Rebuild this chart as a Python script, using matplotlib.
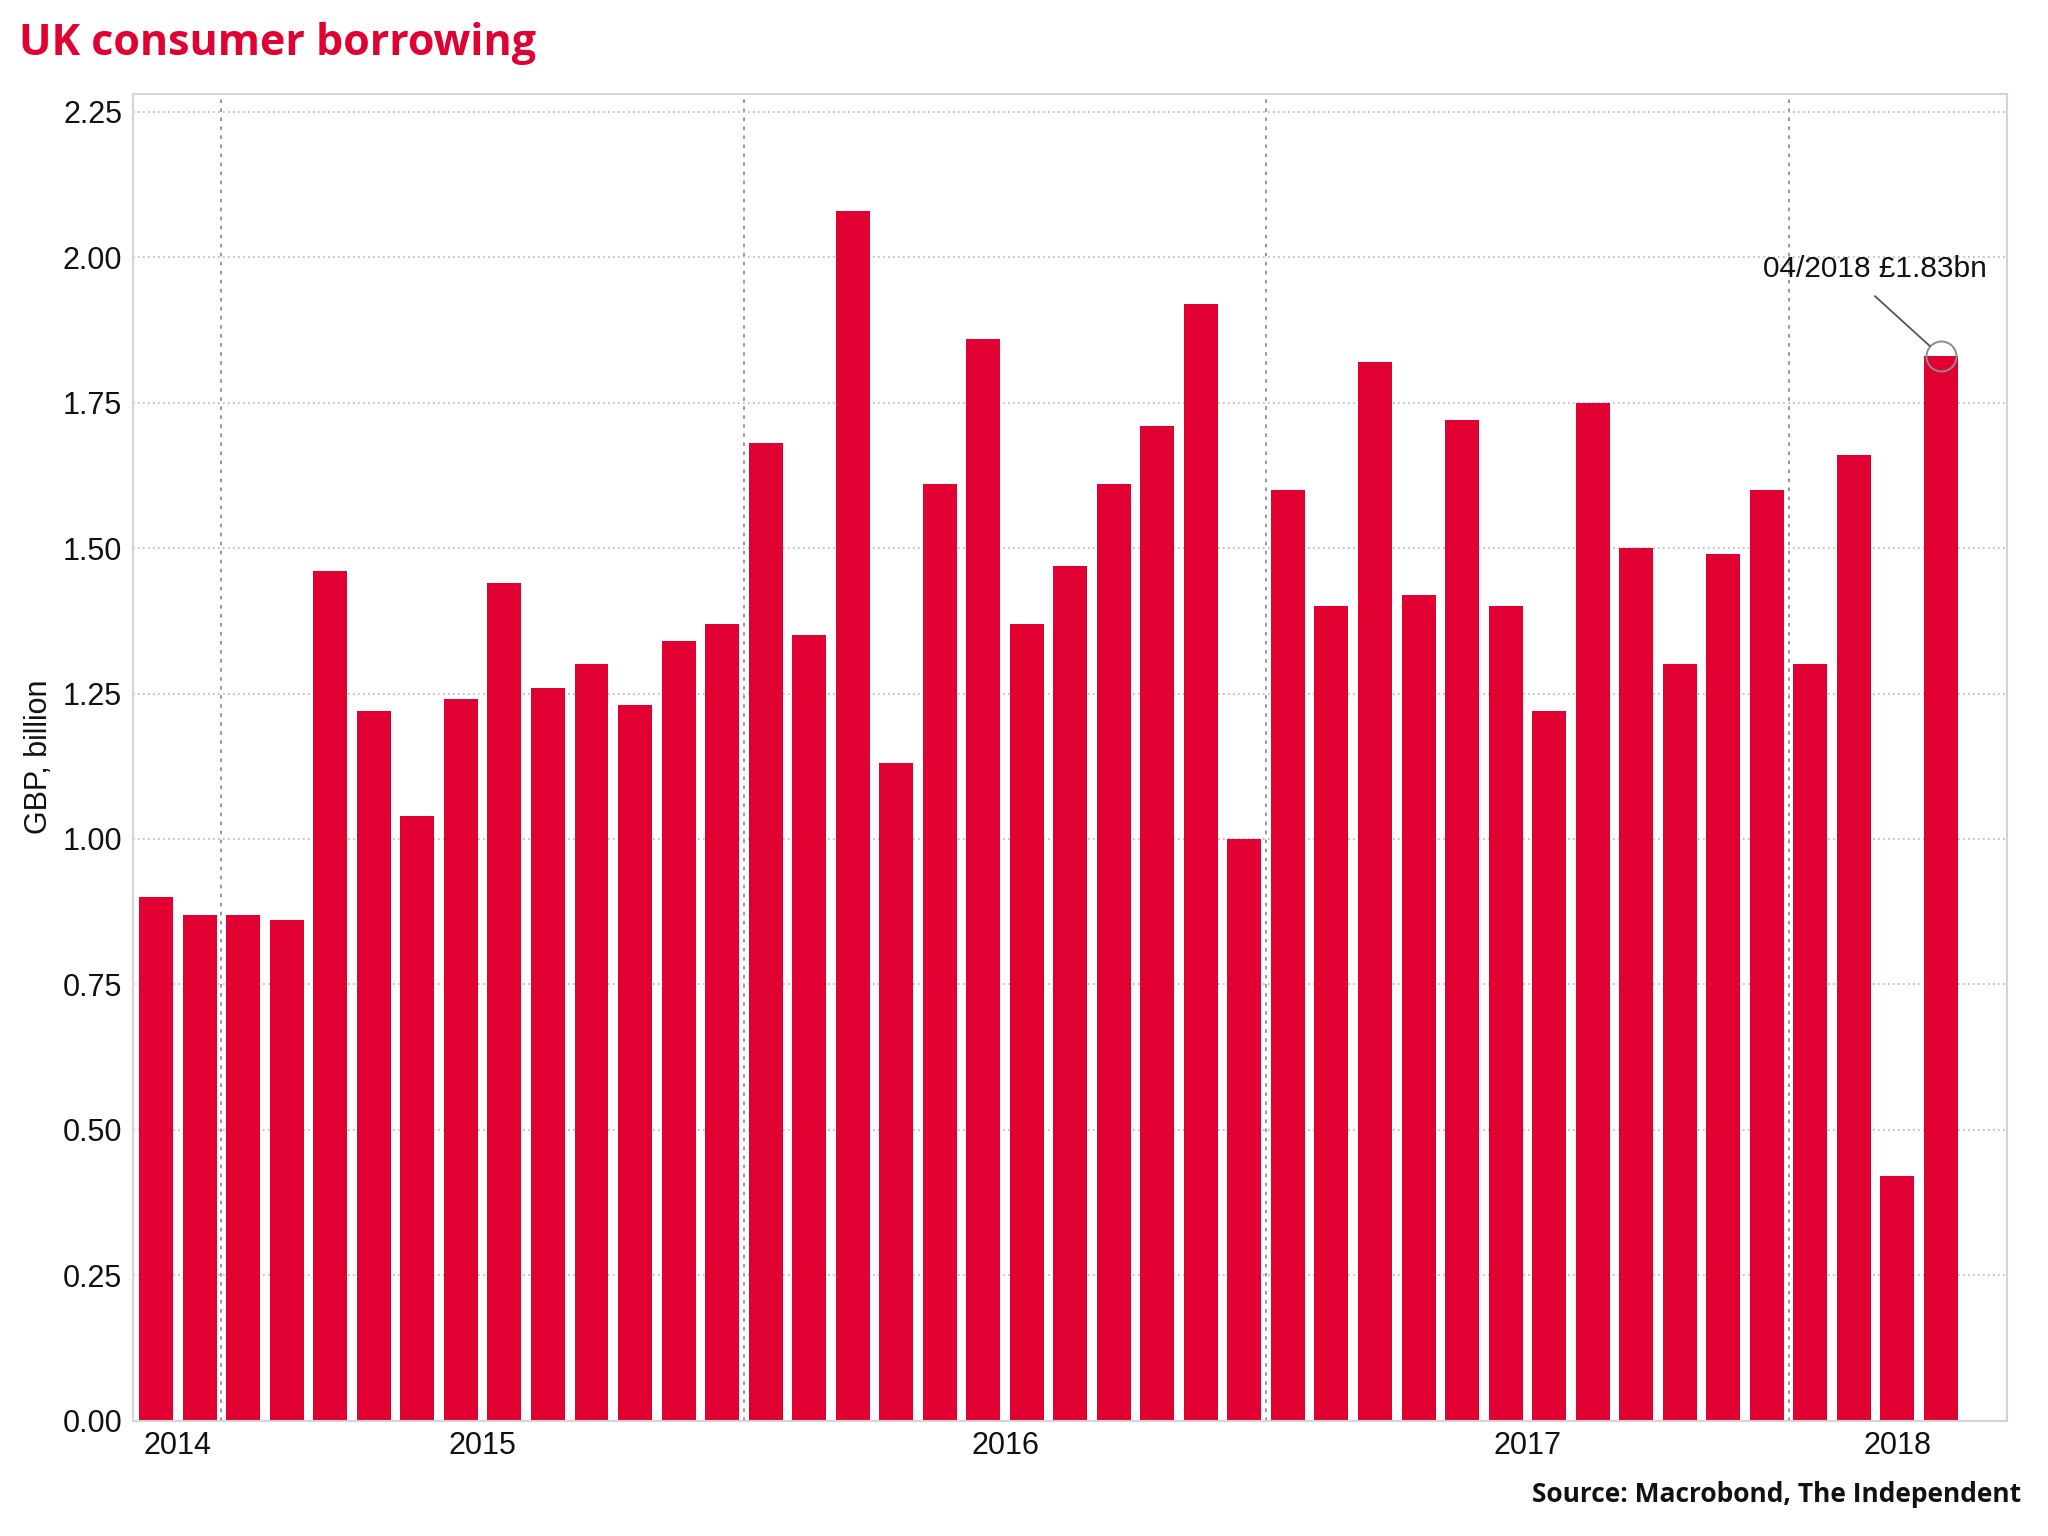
import numpy as np
import pandas as pd
import matplotlib
matplotlib.use('Agg')
import matplotlib.pyplot as plt

# monthly net consumer credit, GBP bn, Nov 2014 - Apr 2018
months = pd.date_range('2014-11-01', '2018-04-01', freq='MS')
borrowing = [0.90, 0.87, 0.87, 0.86, 1.46, 1.22, 1.04, 1.24, 1.44, 1.26,
             1.30, 1.23, 1.34, 1.37, 1.68, 1.35, 2.08, 1.13, 1.61, 1.86,
             1.37, 1.47, 1.61, 1.71, 1.92, 1.00, 1.60, 1.40, 1.82, 1.42,
             1.72, 1.40, 1.22, 1.75, 1.50, 1.30, 1.49, 1.60, 1.30, 1.66,
             0.42, 1.83]
y_ticks = [0.00, 0.25, 0.50, 0.75, 1.00, 1.25, 1.50, 1.75, 2.00, 2.25]
note_text = '04/2018 £1.83bn'

czerwony = '#E00032'
plt.rcParams['font.family'] = ['Liberation Sans', 'DejaVu Sans']

fig = plt.figure(figsize=(20.48, 15.36), dpi=100)
ax = fig.add_axes([0.065, 0.075, 0.915, 0.864])

x = np.arange(len(borrowing))
ax.bar(x, borrowing, width=0.78, color=czerwony, zorder=2)

x_lo, x_hi = -0.53, len(borrowing) + 0.52
ax.set_xlim(x_lo, x_hi)
ax.set_ylim(0, 2.281)

# granice lat i etykiety w srodku widocznej czesci roku
granice = [i - 0.5 for i, m in enumerate(months) if m.month == 1]
krawedzie = [x_lo] + granice + [x_hi]
srodki = [(a + b) / 2 for a, b in zip(krawedzie[:-1], krawedzie[1:])]
lata = sorted(set(m.year for m in months))

ax.set_xticks(srodki)
ax.set_xticklabels([str(r) for r in lata])
ax.set_xticks(granice, minor=True)
ax.set_yticks(y_ticks)
ax.set_yticklabels([f'{v:.2f}' for v in y_ticks])
ax.tick_params(axis='both', which='both', length=0, labelsize=22, colors='#111111')
ax.tick_params(axis='y', pad=8)
ax.tick_params(axis='x', pad=7)

ax.grid(axis='y', which='major', linestyle=(0, (1, 2)), color='#b8b8b8', linewidth=1.2, zorder=0)
ax.grid(axis='x', which='minor', linestyle=(0, (2, 3)), color='#909090', linewidth=1.3, zorder=0)
ax.grid(axis='x', which='major', visible=False)

for s in ax.spines.values():
    s.set_color('#d4d4d4')
    s.set_linewidth(1.5)

ax.set_ylabel('GBP, billion', fontsize=22, labelpad=6, color='#111111')

# adnotacja ostatniej wartosci
ost = len(borrowing) - 1
punkt = (ost, borrowing[ost])
ax.plot(*punkt, 'o', ms=21.6, mfc='none', mec='#8c8c8c', mew=1.4, zorder=4)
ax.annotate('', xy=punkt, xytext=(-47.5, 43.2), textcoords='offset points',
            arrowprops=dict(arrowstyle='-', color='#555555', lw=1.3, shrinkA=0, shrinkB=10.8),
            zorder=5)
ax.annotate(note_text, xy=punkt, xytext=(-47.5, 62.6), textcoords='offset points',
            ha='center', va='center', fontsize=21.5, color='#111111', zorder=5)

fig.text(0.0095, 0.9715, 'UK consumer borrowing', fontsize=31, fontweight='bold',
         color=czerwony, family=['Open Sans', 'DejaVu Sans'], ha='left', va='center')
fig.text(0.987, 0.027, 'Source: Macrobond, The Independent', fontsize=19, fontweight='bold',
         color='#111111', family=['Open Sans', 'DejaVu Sans'], ha='right', va='center')

fig.savefig('out.png', dpi=100)
